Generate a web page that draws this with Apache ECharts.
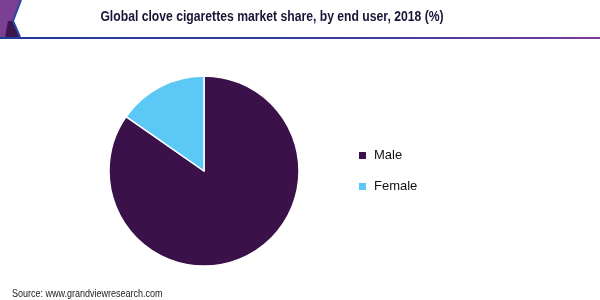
<!DOCTYPE html>
<html><head><meta charset="utf-8">
<script src="https://cdn.jsdelivr.net/npm/echarts@6/dist/echarts.min.js"></script>
<style>html,body{margin:0;padding:0;background:#fff}#c{width:600px;height:300px}</style>
</head><body><div id="c"></div>
<script>
var categories = ['Male', 'Female'];
var shares = [84.7, 15.3];
var colors = ['#3a1148', '#5bc8f5'];
var titleText = 'Global clove cigarettes market share, by end user, 2018 (%)';
var sourceText = 'Source: www.grandviewresearch.com';

var chart = echarts.init(document.getElementById('c'), null, {renderer: 'canvas'});
chart.setOption({
  animation: false,
  color: colors,
  legend: {
    orient: 'vertical', left: 352, top: 144,
    itemWidth: 9, itemHeight: 9, itemGap: 18,
    icon: 'rect',
    data: categories,
    textStyle: {fontFamily: 'Liberation Sans, Arial', fontSize: 13, color: '#111', padding: [0, 0, 0, 2]}
  },
  graphic: [
    {type: 'polygon', shape: {points: [[0,0],[21,0],[13,21],[5,37],[0,37]]}, style: {fill: '#7b3f93'}},
    {type: 'polygon', shape: {points: [[8,21],[13,21],[20,37],[5,37]]}, style: {fill: '#3c1650'}},
    {type: 'polyline', shape: {points: [[21,0],[13,21],[20,37]]}, style: {stroke: '#2a46a0', lineWidth: 2, fill: null}},
    {type: 'rect', shape: {x: 0, y: 37, width: 600, height: 2},
      style: {fill: new echarts.graphic.LinearGradient(0, 0, 1, 0, [{offset: 0, color: '#1f3c96'}, {offset: 0.6, color: '#3a3d9e'}, {offset: 1, color: '#7a3b98'}])}},
    {type: 'text', x: 272, y: 17, scaleX: 0.87, style: {text: titleText, font: 'bold 14px Liberation Sans, Arial', fill: '#1c1436', textAlign: 'center', textVerticalAlign: 'middle'}},
    {type: 'text', x: 12, y: 294, scaleX: 0.9, style: {text: sourceText, font: '10px Liberation Sans, Arial', fill: '#222', textVerticalAlign: 'middle'}}
  ],
  series: [{
    type: 'pie',
    center: [204, 171],
    radius: [0, 95],
    startAngle: 90,
    label: {show: false},
    labelLine: {show: false},
    itemStyle: {borderColor: '#fff', borderWidth: 1.5},
    data: categories.map(function (c, i) { return {name: c, value: shares[i]}; })
  }]
});
</script></body></html>
